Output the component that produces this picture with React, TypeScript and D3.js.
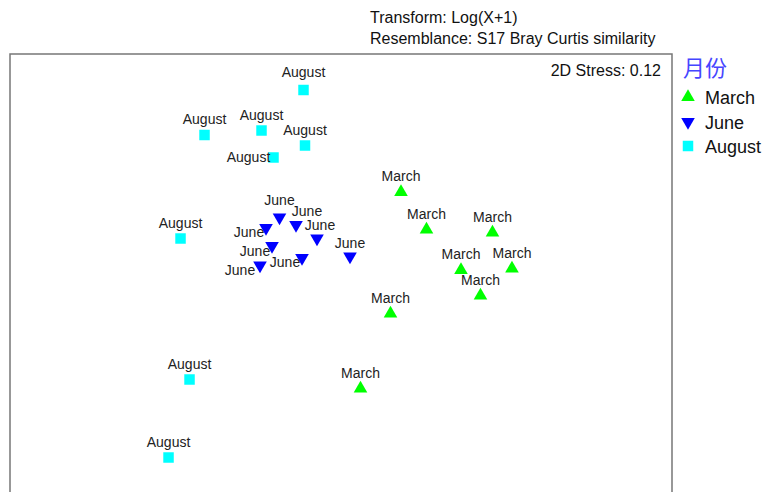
import { useEffect, useRef } from 'react';
import * as d3 from 'd3';

// NMDS ordination coordinates (arbitrary units)
const groups = ['March', 'June', 'August'];

const marchX = [0.40, 0.57, 1.01, 0.80, 1.14, 0.93, 0.33, 0.13];
const marchY = [0.54, 0.29, 0.27, 0.02, 0.03, -0.15, -0.27, -0.77];

const juneX = [-0.41, -0.30, -0.50, -0.16, -0.46, -0.26, -0.54, 0.06];
const juneY = [0.37, 0.32, 0.30, 0.23, 0.18, 0.10, 0.05, 0.11];

const augustX = [-0.25, -0.91, -0.53, -0.24, -0.45, -1.07, -1.01, -1.15];
const augustY = [1.22, 0.92, 0.95, 0.85, 0.77, 0.23, -0.71, -1.23];

// label nudges (PRIMER moves some labels to avoid overlaps)
const marchNudge = [[0, 0], [0, 0], [0, 0], [0, 0], [0, 0], [0, 0], [0, 0], [0, 0]];
const juneNudge = [[0, -2], [11, 2], [-17, 20], [3, 2], [-17, 21], [-17, 20], [-20, 20], [0, 2]];
const augustNudge = [[0, -2], [0, 0], [0, 0], [0, 0], [-25, 15], [0, 0], [0, 0], [0, 0]];

const titleLines = ['Transform: Log(X+1)', 'Resemblance: S17 Bray Curtis similarity'];
const stressLabel = '2D Stress: 0.12';
const legendTitle = '月份';

const colors = { March: '#00ff00', June: '#0000ff', August: '#00ffff' };

const shapeFor = (g) => {
	if (g === 'March') return d3.symbol().type(d3.symbolTriangle).size(80)();
	if (g === 'June') return d3.symbol().type(d3.symbolTriangle).size(80)();
	return d3.symbol().type(d3.symbolSquare).size(110)();
};
const rotFor = (g) => (g === 'June' ? 180 : 0);

export default function App() {
	const svgRef = useRef();
	const width = 762;
	const height = 492;
	const frame = { left: 10, top: 54, right: 672, bottom: 520 };
	const fontFamily = '"Liberation Sans", Arial, sans-serif';

	useEffect(() => {
		const svg = d3.select(svgRef.current);
		svg.selectAll('*').remove();

		const x = d3.scaleLinear().domain([-2.207, 2.207]).range([frame.left, frame.right]);
		const y = d3.scaleLinear().domain([-1.46, 1.46]).range([492, frame.top]);

		const points = [
			...marchX.map((v, i) => ({ g: 'March', x: v, y: marchY[i], n: marchNudge[i] })),
			...juneX.map((v, i) => ({ g: 'June', x: v, y: juneY[i], n: juneNudge[i] })),
			...augustX.map((v, i) => ({ g: 'August', x: v, y: augustY[i], n: augustNudge[i] })),
		];

		// title
		svg.append('g')
			.selectAll('text')
			.data(titleLines)
			.join('text')
			.attr('x', 370)
			.attr('y', (d, i) => 23 + i * 21)
			.attr('font-family', fontFamily)
			.attr('font-size', 16)
			.attr('fill', '#111')
			.text(d => d);

		// frame
		svg.append('path')
			.attr('d', `M${frame.left},${frame.bottom}V${frame.top}H${frame.right}V${frame.bottom}`)
			.attr('fill', 'none')
			.attr('stroke', '#777')
			.attr('stroke-width', 1.5);

		svg.append('text')
			.attr('x', frame.right - 11)
			.attr('y', 76)
			.attr('text-anchor', 'end')
			.attr('font-family', fontFamily)
			.attr('font-size', 16)
			.attr('fill', '#111')
			.text(stressLabel);

		// points
		svg.append('g')
			.selectAll('path')
			.data(points)
			.join('path')
			.attr('d', d => shapeFor(d.g))
			.attr('transform', d => `translate(${x(d.x)},${y(d.y)}) rotate(${rotFor(d.g)})`)
			.attr('fill', d => colors[d.g]);

		// labels
		svg.append('g')
			.selectAll('text')
			.data(points)
			.join('text')
			.attr('x', d => x(d.x) + d.n[0])
			.attr('y', d => y(d.y) - 11 + d.n[1])
			.attr('text-anchor', 'middle')
			.attr('font-family', fontFamily)
			.attr('font-size', 14)
			.attr('fill', '#222')
			.text(d => d.g);

		// legend
		const legend = svg.append('g');
		legend.append('text')
			.attr('x', 683)
			.attr('y', 76)
			.attr('font-family', '"Noto Sans CJK SC", sans-serif')
			.attr('font-size', 22)
			.attr('fill', '#4646ff')
			.text(legendTitle);

		const items = legend.selectAll('g.item')
			.data(groups)
			.join('g')
			.attr('class', 'item')
			.attr('transform', (d, i) => `translate(688,${97 + i * 25 - (i === 2 ? 1 : 0)})`);
		items.append('path')
			.attr('d', d => shapeFor(d))
			.attr('transform', d => `rotate(${rotFor(d)})`)
			.attr('fill', d => colors[d]);
		items.append('text')
			.attr('x', 17)
			.attr('y', 7)
			.attr('font-family', fontFamily)
			.attr('font-size', 18)
			.attr('fill', '#111')
			.text(d => d);
	}, []);

	return (
		<svg ref={svgRef} width={width} height={height}
			style={{ position: 'absolute', left: 0, top: 0, background: '#fff' }} />
	);
}
